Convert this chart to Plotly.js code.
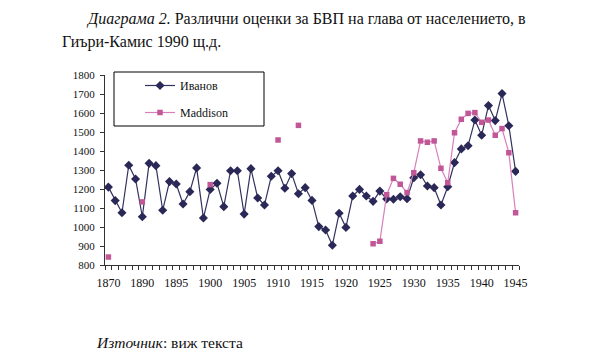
<!DOCTYPE html>
<html>
<head>
<meta charset="utf-8">
<script src="https://cdn.plot.ly/plotly-3.0.1.min.js"></script>
<style>html,body{margin:0;padding:0;background:#fff;}#chart{width:606px;height:359px;}</style>
</head>
<body>
<div id="chart"></div>
<script>
const years = ["1870","1886","1887","1888","1889","1890","1891","1892","1893","1894",
  "1895","1896","1897","1898","1899","1900","1901","1902","1903","1904",
  "1905","1906","1907","1908","1909","1910","1911","1912","1913","1914",
  "1915","1916","1917","1918","1919","1920","1921","1922","1923","1924",
  "1925","1926","1927","1928","1929","1930","1931","1932","1933","1934",
  "1935","1936","1937","1938","1939","1940","1941","1942","1943","1944","1945"];

const ivanov = [1210,1139,1075,1325,1253,1054,1335,1323,1088,1239,
  1226,1121,1186,1311,1047,1198,1230,1107,1296,1296,
  1068,1307,1153,1116,1267,1296,1204,1281,1175,1207,
  1140,1002,984,904,1072,998,1163,1198,1163,1135,
  1189,1147,1146,1159,1149,1259,1275,1216,1207,1116,
  1212,1339,1411,1428,1563,1483,1639,1560,1702,1533,1293];

const maddisonYears = ["1870","1890","1900","1910","1913","1924","1925","1926","1927","1928",
  "1929","1930","1931","1932","1933","1934","1935","1936","1937","1938",
  "1939","1940","1941","1942","1943","1944","1945"];
const maddisonValues = [842,1132,1223,1458,1535,912,925,1170,1256,1225,
  1181,1286,1453,1446,1453,1309,1233,1496,1567,1598,
  1602,1551,1563,1483,1518,1391,1075];

const tickLabels = ["1870","1890","1895","1900","1905","1910","1915","1920","1925","1930","1935","1940","1945"];

const maddison = years.map(y => {
  const i = maddisonYears.indexOf(y);
  return i >= 0 ? maddisonValues[i] : null;
});
const tickText = years.map(y => tickLabels.includes(y) ? y : "");

const serif = "Liberation Serif";

const traces = [
  {
    x: years, y: ivanov, name: "Иванов", type: "scatter", mode: "lines+markers",
    legendgroup: "a",
    line: {color: "#33315f", width: 1.2},
    marker: {symbol: "diamond", size: 7, color: "#2a2857"}
  },
  {
    x: years, y: maddison, name: "Maddison", type: "scatter", mode: "lines+markers",
    legendgroup: "b", connectgaps: false,
    line: {color: "#d77fbb", width: 1.2},
    marker: {symbol: "square", size: 5.5, color: "#c25797"}
  }
];

const px = v => (v - 105) / 414;
const py = v => (265 - v) / 190;

const layout = {
  width: 606, height: 359,
  margin: {l: 105, r: 87, t: 75, b: 94},
  paper_bgcolor: "#fff", plot_bgcolor: "#fff",
  font: {family: serif, color: "#111", size: 11},
  showlegend: true,
  title: {
    text: "<i>Диаграма 2.</i> Различни оценки за БВП на глава от населението, в",
    x: 88/606, xanchor: "left", xref: "container",
    y: 1 - 18/359, yanchor: "middle", yref: "container",
    font: {family: serif, size: 16, color: "#111"}
  },
  legend: {
    x: px(140), y: py(71), xanchor: "left", yanchor: "top",
    borderwidth: 0, bgcolor: "rgba(0,0,0,0)",
    font: {family: serif, size: 12, color: "#111"},
    traceorder: "grouped", tracegroupgap: 8
  },
  shapes: [
    {type: "rect", xref: "paper", yref: "paper",
     x0: px(114), x1: px(264), y0: py(72), y1: py(126),
     line: {color: "#000", width: 1}, fillcolor: "rgba(0,0,0,0)", layer: "below"}
  ],
  xaxis: {
    type: "category", categoryorder: "array", categoryarray: years,
    tickmode: "array", tickvals: years, ticktext: tickText,
    tickson: "boundaries", ticks: "outside", ticklen: 4, tickcolor: "#333",
    tickangle: 0,
    showline: true, linecolor: "#333", linewidth: 1,
    showgrid: false, zeroline: false,
    ticklabelstandoff: 7,
    tickfont: {family: serif, size: 12, color: "#111"},
    range: [-0.5, 60.5]
  },
  yaxis: {
    range: [800, 1800], dtick: 100, tick0: 800,
    ticks: "outside", ticklen: 4, tickcolor: "#333",
    showline: true, linecolor: "#333", linewidth: 1,
    showgrid: false, zeroline: false,
    ticklabelstandoff: 3,
    tickfont: {family: serif, size: 11, color: "#111"}
  },
  annotations: [
    {
      text: "Гиъри-Камис 1990 щ.д.", showarrow: false,
      xref: "paper", yref: "paper",
      x: px(60), y: py(42), xanchor: "left", yanchor: "middle",
      font: {family: serif, size: 16, color: "#111"}
    },
    {
      text: "<i>Източник</i>: виж текста", showarrow: false,
      xref: "paper", yref: "paper",
      x: px(94), y: py(342), xanchor: "left", yanchor: "middle",
      font: {family: serif, size: 15.5, color: "#111"}
    }
  ]
};

Plotly.newPlot("chart", traces, layout, {displayModeBar: false, staticPlot: true});
</script>
</body>
</html>
